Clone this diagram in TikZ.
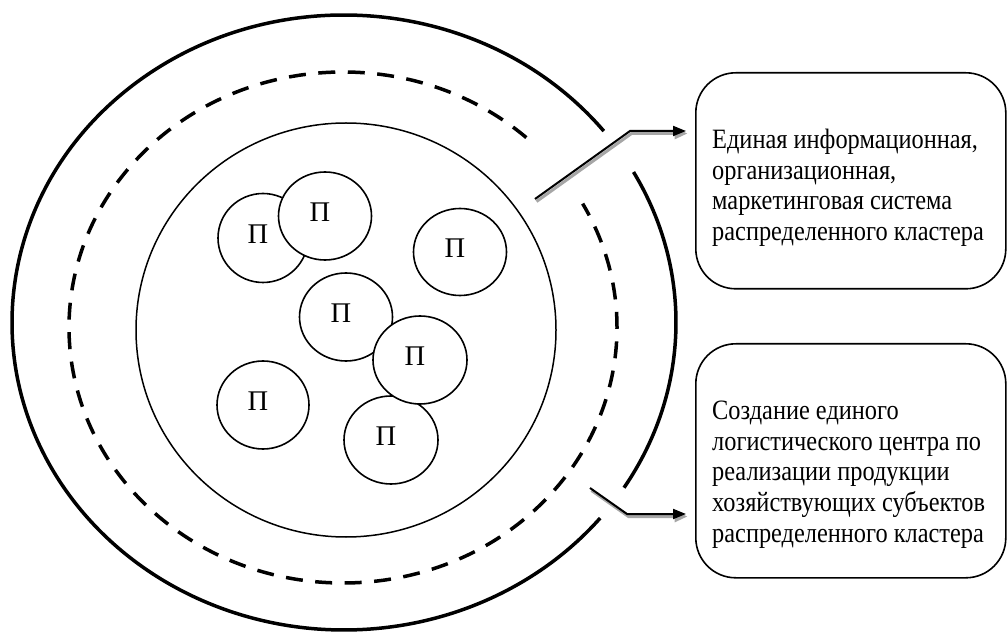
\documentclass[tikz,border=0pt]{standalone}
\usepackage{fontspec}
\setmainfont{Liberation Serif}
\newfontfamily\boxfont[FakeStretch=0.87]{Liberation Serif}
\usetikzlibrary{arrows.meta,shapes.geometric,calc}
\begin{document}
\begin{tikzpicture}[x=1pt,y=1pt,
  pcirc/.style={ellipse, draw, line width=1.6pt, fill=white, inner sep=0pt},
  plabel/.style={font=\fontsize{28.5}{30}\selectfont},
  infobox/.style={draw, line width=1.6pt, rounded corners=40pt, minimum width=310pt, anchor=north west, inner sep=0pt},
  btext/.style={anchor=base west, inner sep=0pt},
  arr/.style={line width=2pt, -{Triangle[length=13pt,width=10pt]}},
  arrshadow/.style={line width=3pt, draw=black!35, -{Triangle[length=13pt,width=11pt,fill=black!35]}, transform canvas={xshift=1.5pt,yshift=-2.5pt}},
  ]
\useasboundingbox (0,0) rectangle (1008,632);
% outer ellipse (with two gaps on the right)
\draw[line width=3.5pt] (344,309.5) ++({332*cos(38.5)},{307.5*sin(38.5)})
  arc[start angle=38.5, end angle=320.5, x radius=332, y radius=307.5];
\draw[line width=3.5pt] (344,309.5) ++({332*cos(-32.5)},{307.5*sin(-32.5)})
  arc[start angle=-32.5, end angle=29.3, x radius=332, y radius=307.5];
% dashed ellipse (gap upper right)
\draw[line width=3.5pt, dash pattern=on 17pt off 12.5pt] (343,304.5) ++({274*cos(48)},{255.5*sin(48)})
  arc[start angle=48, end angle=389, x radius=274, y radius=255.5];
% inner ellipse
\draw[line width=1.5pt] (346,302) ellipse [x radius=210, y radius=207];
% enterprises
\node[pcirc, minimum width=90pt, minimum height=89pt, label={[plabel,shift={(-5,4)}]center:П}] (p1) at (263,394) {};
\node[pcirc, minimum width=93pt, minimum height=88pt, label={[plabel,shift={(-5,4)}]center:П}] (p2) at (325,416) {};
\node[pcirc, minimum width=93pt, minimum height=87pt, label={[plabel,shift={(-5,4)}]center:П}] (p3) at (460,380) {};
\node[pcirc, minimum width=93pt, minimum height=88pt, label={[plabel,shift={(-5,4)}]center:П}] (p4) at (346,315) {};
\node[pcirc, minimum width=94pt, minimum height=88pt, label={[plabel,shift={(-5,4)}]center:П}] (p7) at (391,192) {};
\node[pcirc, minimum width=94pt, minimum height=88pt, label={[plabel,shift={(-5,4)}]center:П}] (p5) at (420,272) {};
\node[pcirc, minimum width=92pt, minimum height=88pt, label={[plabel,shift={(-5,4)}]center:П}] (p6) at (263,227) {};
% boxes
\node[infobox, minimum height=216pt] (b1) at (695,560) {};
\node[infobox, minimum height=234pt] (b2) at (695,289) {};
\node[btext] (t1) at (712,483) {\parbox[t]{292pt}{\boxfont\fontsize{28}{30.5}\selectfont\raggedright
Единая информационная,\\организационная,\\маркетинговая система\\распределенного кластера}};
\node[btext] (t2) at (712,212) {\parbox[t]{292pt}{\boxfont\fontsize{28}{30.5}\selectfont\raggedright
Создание единого\\логистического центра по\\реализации продукции\\хозяйствующих субъектов\\распределенного кластера}};
% arrows
\coordinate (a1s) at (535,433);
\coordinate (a1m) at (630,501);
\coordinate (a1e) at ($(b1.west|-a1m)+(-9,0)$);
\coordinate (a2s) at (590,144);
\coordinate (a2m) at (627,118);
\coordinate (a2e) at ($(b2.west|-a2m)+(-9,0)$);
\draw[arrshadow] (a1s) -- (a1m) -- (a1e);
\draw[arr] (a1s) -- (a1m) -- (a1e);
\draw[arrshadow] (a2s) -- (a2m) -- (a2e);
\draw[arr] (a2s) -- (a2m) -- (a2e);
\end{tikzpicture}
\end{document}
